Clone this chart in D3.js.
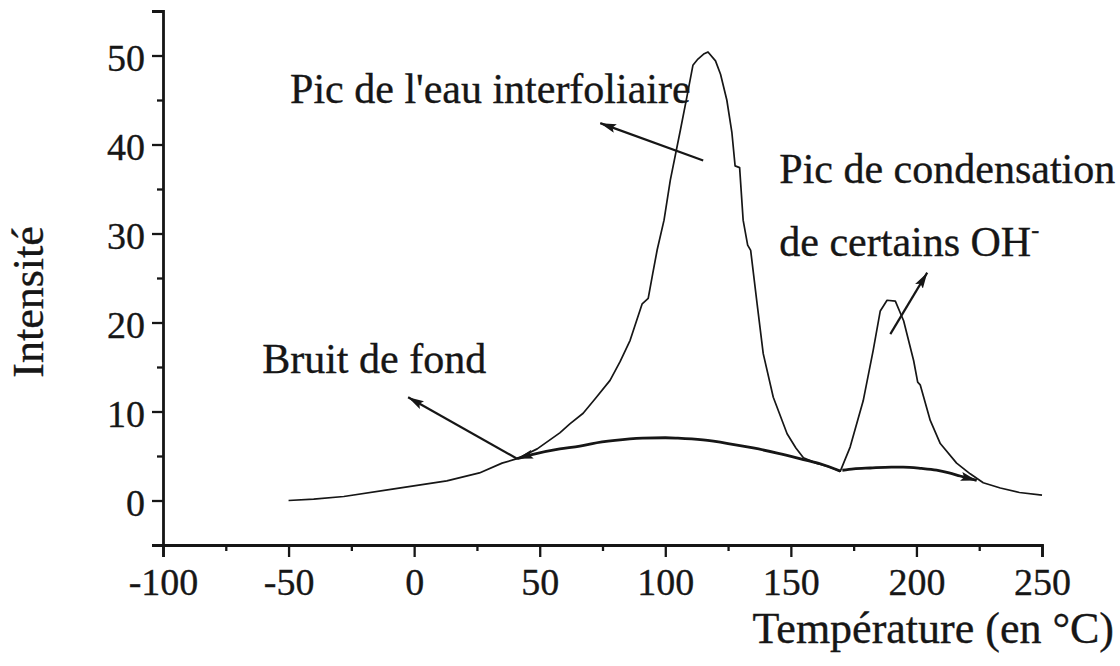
<!DOCTYPE html>
<html>
<head>
<meta charset="utf-8">
<script src="https://cdn.jsdelivr.net/npm/d3@7/dist/d3.min.js"></script>
<style>
  html, body { margin: 0; padding: 0; background: #fff; }
  svg { display: block; }
  text { font-family: "Liberation Serif", "Times New Roman", serif; fill: #161616; stroke: #161616; stroke-width: 0.35px; }
</style>
</head>
<body>
<svg id="chart" width="1120" height="666"></svg>
<script>
// Thermogram: total signal (°C, intensity)
const signalTemp = [-50, -40, -28, -8, 13, 26, 35, 41, 49, 58, 62, 67.3, 72, 78, 82, 86, 90.8, 93.2, 95, 96.8, 99.5, 102, 106, 108.7, 111, 113, 115.5, 117, 120, 122, 124.5, 126.5, 127.8, 129.6, 131, 132.8, 134, 136.6, 139, 143, 148.5, 152, 155, 160, 165, 169.7, 173.6, 178.8, 182.8, 185.6, 188.3, 191.6, 194.9, 198.9, 200.5, 201.5, 205.5, 209.5, 216, 221.4, 226.6, 233.4, 241, 250];
const signalValue = [0, 0.15, 0.45, 1.3, 2.2, 3.1, 4.2, 4.7, 5.8, 7.6, 8.6, 9.8, 11.4, 13.5, 15.6, 18.0, 22.1, 22.7, 25.5, 28.2, 31.5, 36.0, 41.6, 45.5, 48.9, 49.6, 50.2, 50.4, 49.4, 47.9, 45.0, 41.4, 37.6, 37.4, 31.5, 28.7, 28.1, 22.0, 16.5, 11.6, 7.5, 5.9, 4.8, 4.2, 3.8, 3.3, 6.0, 11.2, 16.9, 21.3, 22.5, 22.4, 20.2, 15.7, 13.3, 13.0, 9.0, 6.4, 4.2, 3.0, 2.0, 1.4, 0.9, 0.6];

// Background (bruit de fond) under the first and the second peak
const baseTempA = [41, 46, 58, 66, 71, 80, 91, 100, 105, 115, 125, 135, 145, 155, 162, 169.7];
const baseValueA = [4.7, 5.1, 5.8, 6.1, 6.4, 6.75, 7.0, 7.05, 7.0, 6.8, 6.4, 5.9, 5.3, 4.6, 4.1, 3.3];
const baseTempB = [170.5, 175, 181.6, 190, 194.7, 202, 208, 213, 217.4, 224];
const baseValueB = [3.4, 3.55, 3.65, 3.75, 3.75, 3.6, 3.4, 3.1, 2.75, 2.25];

// Axis ticks
const xMajorTicks = [-100, -50, 0, 50, 100, 150, 200, 250];
const xMinorTicks = [-75, -25, 25, 75, 125, 175, 225];
const yMajorTicks = [0, 10, 20, 30, 40, 50];
const yMinorTicks = [-5, 5, 15, 25, 35, 45, 55];

// Annotation labels and their pointer arrows (in data units)
const labelText = ["Pic de l'eau interfoliaire", "Bruit de fond", "Pic de condensation", "de certains OH"];
const labelTemp = [-49.4, -60.5, 145.4, 145.4];
const labelValue = [44.7, 14.3, 35.7, 27.5];
const arrowFromTemp = [115.1, 41, 189.6];
const arrowFromValue = [38.2, 4.7, 18.7];
const arrowToTemp = [74.1, -2.4, 204.3];
const arrowToValue = [42.4, 11.6, 25.6];

const svg = d3.select("#chart");
const x = d3.scaleLinear().domain([-100, 250]).range([163, 1042]);
const y = d3.scaleLinear().domain([-5, 55]).range([545, 11]);
const plain = d => String(d);   // hyphen-minus, as typeset on the axis

const defs = svg.append("defs");
defs.append("marker")
  .attr("id", "head")
  .attr("viewBox", "0 0 16 9")
  .attr("refX", 16).attr("refY", 4.5)
  .attr("markerWidth", 16).attr("markerHeight", 9)
  .attr("markerUnits", "userSpaceOnUse")
  .attr("orient", "auto-start-reverse")
  .append("path")
  .attr("d", "M0,0 L16,4.5 L0,9 L3,4.5 Z")
  .attr("fill", "#161616");

// Axes
const xAxis = svg.append("g").attr("transform", "translate(0,545)");
xAxis.call(d3.axisBottom(x).tickValues(xMajorTicks).tickSize(12).tickPadding(11).tickFormat(plain));
xAxis.append("g").call(d3.axisBottom(x).tickValues(xMinorTicks).tickSize(6).tickFormat(""))
  .select(".domain").remove();

const yAxis = svg.append("g").attr("transform", "translate(163,0)");
yAxis.call(d3.axisLeft(y).tickValues(yMajorTicks).tickSize(11).tickPadding(7).tickFormat(plain));
yAxis.append("g").call(d3.axisLeft(y).tickValues(yMinorTicks).tickSize(6).tickFormat(""))
  .select(".domain").remove();

svg.selectAll(".domain").attr("stroke", "#161616").attr("stroke-width", 2.8);
svg.selectAll(".tick line").attr("stroke", "#161616").attr("stroke-width", 2.3);
svg.selectAll(".tick text")
  .attr("font-family", "Liberation Serif, serif")
  .attr("font-size", 38)
  .attr("fill", "#161616");
yAxis.selectAll(".tick text").attr("dy", "0.4em");

// Axis titles
svg.append("text")
  .attr("x", 1114).attr("y", 643)
  .attr("text-anchor", "end")
  .attr("font-size", 44)
  .text("Température (en °C)");

svg.append("text")
  .attr("transform", "translate(43,302) rotate(-90)")
  .attr("text-anchor", "middle")
  .attr("font-size", 44)
  .text("Intensité");

// Curves
const line = d3.line().x(d => x(d[0])).y(d => y(d[1]));

svg.append("path")
  .datum(d3.zip(signalTemp, signalValue))
  .attr("d", line)
  .attr("fill", "none")
  .attr("stroke", "#161616")
  .attr("stroke-width", 1.7)
  .attr("stroke-linejoin", "round");

svg.append("path")
  .datum(d3.zip(baseTempA, baseValueA))
  .attr("d", line.curve(d3.curveMonotoneX))
  .attr("fill", "none")
  .attr("stroke", "#161616")
  .attr("stroke-width", 2.8)
  .attr("marker-start", "url(#head)");

svg.append("path")
  .datum(d3.zip(baseTempB, baseValueB))
  .attr("d", line.curve(d3.curveMonotoneX))
  .attr("fill", "none")
  .attr("stroke", "#161616")
  .attr("stroke-width", 2.8)
  .attr("marker-end", "url(#head)");

// Pointer arrows
svg.append("g").selectAll("line")
  .data(d3.range(arrowFromTemp.length))
  .join("line")
  .attr("x1", i => x(arrowFromTemp[i]))
  .attr("y1", i => y(arrowFromValue[i]))
  .attr("x2", i => x(arrowToTemp[i]))
  .attr("y2", i => y(arrowToValue[i]))
  .attr("stroke", "#161616")
  .attr("stroke-width", 2.2)
  .attr("marker-end", "url(#head)");

// Labels
const labels = svg.append("g").selectAll("text")
  .data(d3.range(labelText.length))
  .join("text")
  .attr("x", i => x(labelTemp[i]))
  .attr("y", i => y(labelValue[i]))
  .attr("font-size", 42)
  .text(i => labelText[i]);

labels.filter(i => i === 3)
  .append("tspan")
  .attr("dy", "-0.75em")
  .attr("font-size", 24)
  .text("-");
</script>
</body>
</html>
